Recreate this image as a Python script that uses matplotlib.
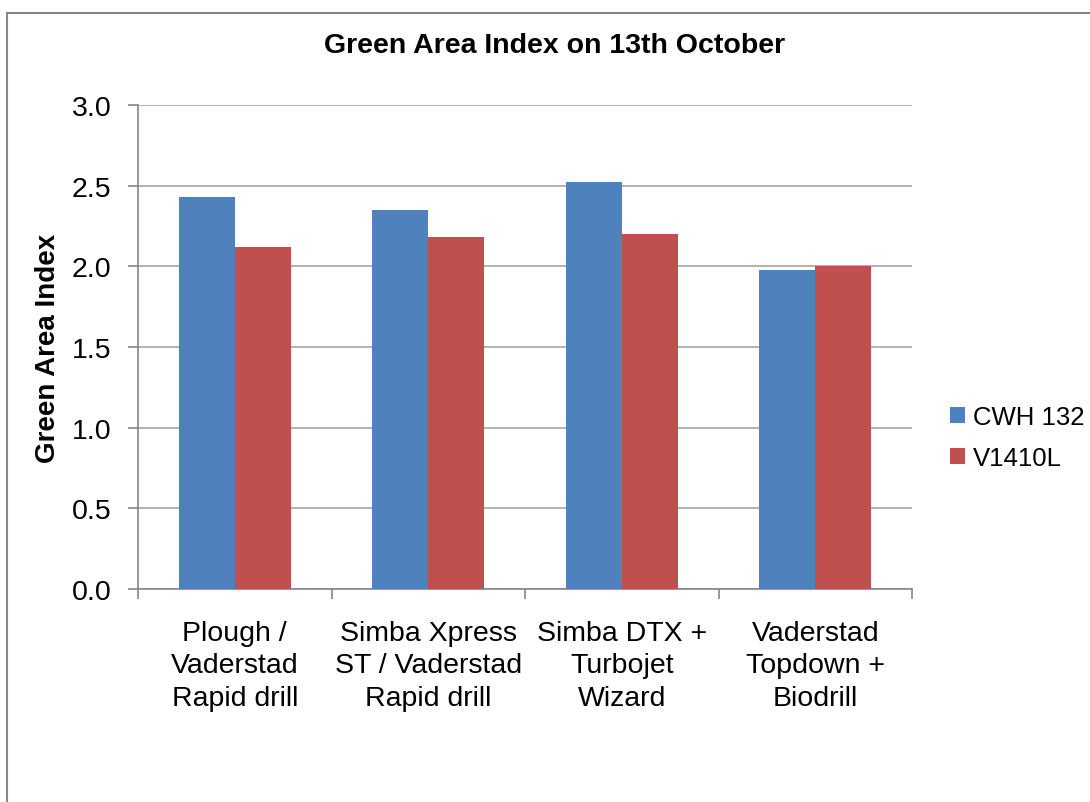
import matplotlib
matplotlib.use("Agg")
import matplotlib.pyplot as plt
import numpy as np

categories = ["Plough /\nVaderstad\nRapid drill",
              "Simba Xpress\nST / Vaderstad\nRapid drill",
              "Simba DTX +\nTurbojet\nWizard",
              "Vaderstad\nTopdown +\nBiodrill"]
series_names = ["CWH 132", "V1410L"]
cwh132 = [2.43, 2.35, 2.52, 1.98]
v1410l = [2.12, 2.18, 2.20, 2.00]
colors = ["#4F81BD", "#C0504D"]
yticks = [0.0, 0.5, 1.0, 1.5, 2.0, 2.5, 3.0]

plt.rcParams['font.family'] = ['Liberation Sans', 'DejaVu Sans']

fig = plt.figure(figsize=(10.9, 8.03), dpi=100)
ax = fig.add_axes([138/1090, 1-590/803, 774/1090, 484/803])

x = np.arange(len(categories))
w = 0.29
ax.bar(x - w/2, cwh132, width=w, color=colors[0], label=series_names[0], zorder=3)
ax.bar(x + w/2, v1410l, width=w, color=colors[1], label=series_names[1], zorder=3)

ax.set_xlim(-0.5, len(categories) - 0.5)
ax.set_ylim(0, 3.0)
ax.set_yticks(yticks)
ax.set_yticklabels([f"{v:.1f}" for v in yticks], fontsize=20.5)
ax.yaxis.grid(True, color="#A6A6A6", linewidth=1.2, zorder=0)

# category ticks at boundaries
ax.set_xticks(np.arange(-0.5, len(categories) + 0.5, 1.0))
ax.set_xticklabels([])
ax.set_xticks(x, minor=True)
ax.set_xticklabels(categories, minor=True, fontsize=20.5, linespacing=1.34)
ax.tick_params(axis='x', which='minor', length=0, pad=22)
ax.tick_params(axis='x', which='major', length=7, color="#868686", width=1.2)
ax.tick_params(axis='y', length=7, color="#868686", width=1.2, pad=12)

for s in ['top', 'right']:
    ax.spines[s].set_visible(False)
for s in ['left', 'bottom']:
    ax.spines[s].set_color("#868686")
    ax.spines[s].set_linewidth(1.2)

ax.set_ylabel("Green Area Index", fontsize=20, fontweight='bold', labelpad=8)
fig.text(555/1090, 1-46/803, "Green Area Index on 13th October",
         ha='center', va='center', fontsize=20.5, fontweight='bold')

ax.legend(loc='center left', bbox_to_anchor=(950/774 - 138/774, 0.313),
          frameon=False, fontsize=18.5, handlelength=0.6, handleheight=0.6,
          handletextpad=0.3, labelspacing=0.65, borderaxespad=0, borderpad=0)

# outer frame of the chart area (top and left visible)
fig.add_artist(plt.Line2D([7/1090, 7/1090], [0, 1-14/803], transform=fig.transFigure,
                          color="#868686", linewidth=1.5))
fig.add_artist(plt.Line2D([7/1090, 1], [1-14/803, 1-14/803], transform=fig.transFigure,
                          color="#868686", linewidth=1.5))

fig.savefig("out.png", dpi=100)
